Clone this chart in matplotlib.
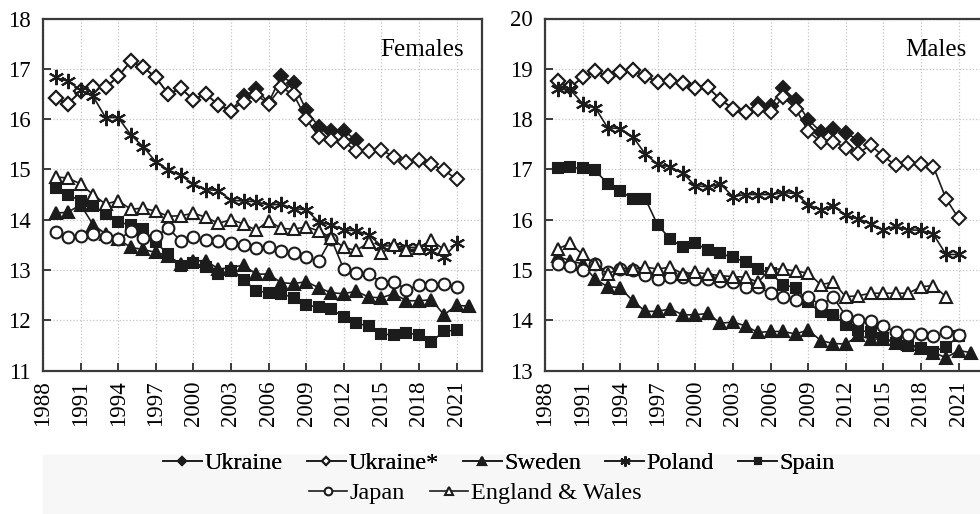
import numpy as np
import matplotlib
matplotlib.use("Agg")
import matplotlib.pyplot as plt
from matplotlib.patches import Rectangle

plt.rcParams['font.family'] = ['Liberation Serif', 'DejaVu Serif']

# every series starts in 1989
start_year = 1989

# ---- females ----
f_ukraine = [16.41, 16.31, 16.55, 16.63, 16.63, 16.85, 17.15, 17.03, 16.83, 16.5,
             16.61, 16.39, 16.5, 16.28, 16.17, 16.45, 16.59, 16.33, 16.85, 16.71,
             16.18, 15.85, 15.77, 15.77, 15.58]
f_ukraine_s = [16.41, 16.31, 16.55, 16.63, 16.63, 16.85, 17.15, 17.03, 16.83, 16.5,
               16.61, 16.39, 16.5, 16.28, 16.17, 16.35, 16.48, 16.31, 16.63, 16.49,
               16.01, 15.65, 15.58, 15.55, 15.37, 15.37, 15.39, 15.25, 15.15, 15.18,
               15.1, 14.98, 14.81]
f_sweden = [14.13, 14.15, 14.3, 13.9, 13.72, 13.62, 13.45, 13.41, 13.35, 13.28,
            13.12, 13.18, 13.19, 13.02, 13.05, 13.1, 12.92, 12.92, 12.75, 12.73,
            12.77, 12.65, 12.55, 12.53, 12.58, 12.46, 12.45, 12.53, 12.39, 12.39,
            12.41, 12.11, 12.3, 12.28]
f_poland = [16.83, 16.75, 16.58, 16.45, 16.03, 16.03, 15.69, 15.45, 15.15, 14.99,
            14.88, 14.71, 14.6, 14.58, 14.39, 14.37, 14.36, 14.29, 14.31, 14.22,
            14.2, 13.96, 13.9, 13.8, 13.78, 13.7, 13.48, 13.48, 13.45, 13.45,
            13.38, 13.26, 13.53]
f_spain = [14.63, 14.49, 14.38, 14.28, 14.11, 13.95, 13.9, 13.81, 13.55, 13.31,
           13.08, 13.15, 13.06, 12.93, 12.99, 12.81, 12.59, 12.55, 12.53, 12.45,
           12.31, 12.26, 12.23, 12.06, 11.95, 11.88, 11.73, 11.71, 11.75, 11.71,
           11.58, 11.78, 11.81]
f_japan = [13.76, 13.66, 13.68, 13.71, 13.66, 13.61, 13.77, 13.63, 13.68, 13.83,
           13.58, 13.66, 13.59, 13.57, 13.53, 13.5, 13.43, 13.46, 13.38, 13.34,
           13.26, 13.18, 13.62, 13.02, 12.94, 12.93, 12.75, 12.77, 12.61, 12.7,
           12.7, 12.73, 12.66]
f_england = [14.85, 14.83, 14.71, 14.5, 14.31, 14.38, 14.21, 14.23, 14.17, 14.07,
             14.08, 14.13, 14.05, 13.93, 14.0, 13.92, 13.79, 13.98, 13.83, 13.81,
             13.86, 13.78, 13.64, 13.45, 13.39, 13.55, 13.33, 13.5, 13.39, 13.43,
             13.59, 13.41]

# ---- males ----
m_ukraine = [18.76, 18.63, 18.83, 18.96, 18.85, 18.94, 18.97, 18.85, 18.74, 18.75,
             18.71, 18.61, 18.63, 18.39, 18.21, 18.14, 18.3, 18.26, 18.61, 18.38,
             17.99, 17.75, 17.81, 17.73, 17.58]
m_ukraine_s = [18.76, 18.63, 18.83, 18.96, 18.85, 18.94, 18.97, 18.85, 18.74, 18.75,
               18.71, 18.61, 18.63, 18.39, 18.21, 18.14, 18.21, 18.14, 18.44, 18.21,
               17.76, 17.55, 17.55, 17.43, 17.33, 17.48, 17.26, 17.08, 17.12, 17.1,
               17.05, 16.42, 16.03]
m_sweden = [15.27, 15.19, 15.12, 14.82, 14.67, 14.65, 14.39, 14.18, 14.18, 14.23,
            14.11, 14.11, 14.14, 13.94, 13.97, 13.89, 13.76, 13.78, 13.78, 13.73,
            13.81, 13.6, 13.54, 13.53, 13.7, 13.63, 13.63, 13.56, 13.53, 13.46,
            13.36, 13.26, 13.4, 13.36]
m_poland = [18.59, 18.59, 18.31, 18.23, 17.83, 17.81, 17.65, 17.31, 17.1, 17.05,
            16.92, 16.68, 16.65, 16.71, 16.46, 16.5, 16.5, 16.5, 16.54, 16.52,
            16.3, 16.2, 16.28, 16.09, 16.02, 15.92, 15.8, 15.87, 15.8, 15.79,
            15.71, 15.31, 15.31]
m_spain = [17.02, 17.04, 17.02, 16.98, 16.72, 16.57, 16.42, 16.42, 15.89, 15.62,
           15.45, 15.53, 15.4, 15.33, 15.25, 15.16, 15.02, 14.94, 14.71, 14.65,
           14.36, 14.16, 14.11, 13.91, 13.81, 13.76, 13.65, 13.56, 13.5, 13.45,
           13.38, 13.48, 13.68]
m_japan = [15.12, 15.09, 15.0, 15.12, 14.96, 15.02, 15.0, 14.91, 14.82, 14.87,
           14.86, 14.82, 14.82, 14.79, 14.76, 14.67, 14.66, 14.54, 14.47, 14.41,
           14.46, 14.31, 14.46, 14.09, 14.01, 13.98, 13.89, 13.76, 13.71, 13.73,
           13.68, 13.76, 13.71]
m_england = [15.42, 15.53, 15.31, 15.12, 14.92, 15.04, 15.02, 15.06, 15.02, 15.06,
             14.92, 14.96, 14.92, 14.89, 14.87, 14.86, 14.76, 15.02, 15.02, 14.98,
             14.94, 14.71, 14.76, 14.47, 14.49, 14.54, 14.54, 14.54, 14.54, 14.67,
             14.69, 14.47]

labels = ['Ukraine', 'Ukraine*', 'Sweden', 'Poland', 'Spain', 'Japan', 'England & Wales']
xticks = list(range(1988, 2022, 3))

ink = '#1c1c1c'
styles = [
    dict(marker='D', ms=7, mfc=ink),
    dict(marker='D', ms=7, mfc='white'),
    dict(marker='^', ms=8.5, mfc=ink),
    dict(marker=(6, 2, 0), ms=11),
    dict(marker='s', ms=7.5, mfc=ink),
    dict(marker='o', ms=8.5, mfc='white'),
    dict(marker='^', ms=9, mfc='white'),
]

fig = plt.figure(figsize=(9.8, 5.14), dpi=100)
# faint band behind the legend
fig.patches.append(Rectangle((43 / 980, 0), 1, 59 / 514, transform=fig.transFigure,
                             color='#f7f7f7', zorder=0))

ax_f = fig.add_axes([43 / 980, 1 - 370.7 / 514, 438.6 / 980, 352.2 / 514])
ax_m = fig.add_axes([545 / 980, 1 - 370.7 / 514, 438.6 / 980, 352.2 / 514])


def draw(ax, series, ylim, title):
    for vals, lab, st in zip(series, labels, styles):
        yrs = np.arange(start_year, start_year + len(vals))
        ax.plot(yrs, vals, color=ink, lw=1.2, mec=ink, mew=1.5, label=lab, **st)
    ax.set_xlim(1988, 2023)
    ax.set_ylim(*ylim)
    ax.set_xticks(xticks)
    ax.set_xticklabels([str(y) for y in xticks], rotation=90)
    ax.set_yticks(range(ylim[0], ylim[1] + 1))
    ax.grid(True, color='#c4c4c4', ls=':', lw=0.9)
    ax.set_axisbelow(True)
    ax.tick_params(direction='in', length=6, width=1.4, color='#3a3a3a',
                   labelsize=16.5, pad=7)
    ax.tick_params(axis='y', pad=9)
    for sp in ax.spines.values():
        sp.set_color('#3a3a3a')
        sp.set_linewidth(1.6)
    ax.text(0.96, 0.91, title, transform=ax.transAxes, ha='right', va='center',
            fontsize=18)


draw(ax_f, [f_ukraine, f_ukraine_s, f_sweden, f_poland, f_spain, f_japan, f_england],
     (11, 18), 'Females')
draw(ax_m, [m_ukraine, m_ukraine_s, m_sweden, m_poland, m_spain, m_japan, m_england],
     (13, 20), 'Males')

handles, labs = ax_f.get_legend_handles_labels()
leg_kw = dict(frameon=False, fontsize=17.5, handlelength=1.6, handletextpad=0.1,
              columnspacing=1.0, markerscale=0.65, borderpad=0, borderaxespad=0)
leg1 = fig.legend(handles[:5], labs[:5], ncol=5, loc='center',
                  bbox_to_anchor=(499 / 980, 1 - 463 / 514), **leg_kw)
fig.add_artist(leg1)
fig.legend(handles[5:], labs[5:], ncol=2, loc='center',
           bbox_to_anchor=(475 / 980, 1 - 493 / 514), **leg_kw)

fig.savefig('out.png', dpi=100)
